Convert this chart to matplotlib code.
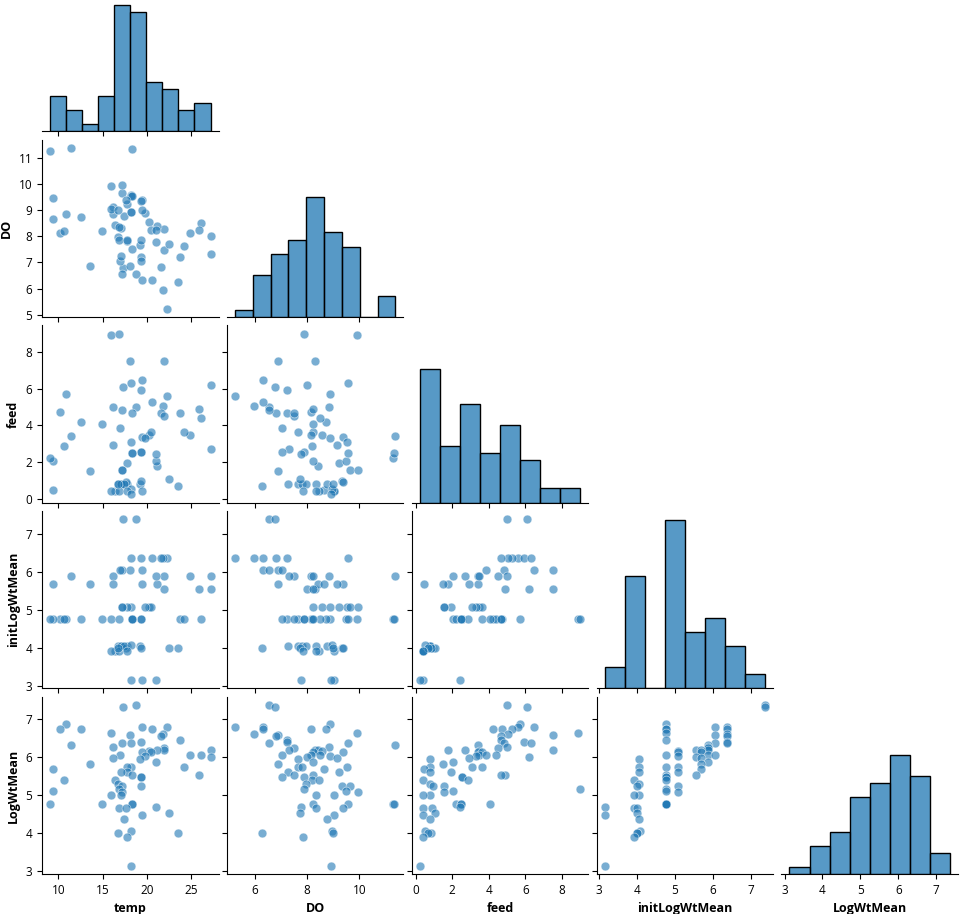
import matplotlib
matplotlib.use("Agg")
import matplotlib.pyplot as plt
from matplotlib.ticker import MultipleLocator
import seaborn as sns
import pandas as pd

temp = [18.8, 17.3, 10.87, 19.5, 22.3, 20.6, 10.2, 12.5, 16.0, 21.8,
        18.07, 21.55, 23.7, 19.3, 17.2, 18.2, 11.4, 16.2, 21.9, 27.2,
        21.9, 21.2, 20.2, 19.5, 20.5, 24.9, 26.1, 17.0, 19.8, 27.2,
        16.2, 19.2, 21.0, 13.56, 24.2, 18.2, 17.8, 9.43, 17.7, 17.1,
        25.9, 18.3, 19.3, 19.3, 10.6, 16.4, 16.7, 19.3, 17.2, 16.9,
        9.43, 17.2, 17.05, 16.0, 9.05, 14.9, 18.3, 18.3, 21.0, 16.8,
        17.6, 22.5, 19.4, 17.4, 18.2, 16.7, 23.5, 17.7, 18.2]

DO = [6.54, 6.78, 8.86, 6.32, 5.23, 6.32, 8.14, 8.72, 9.92, 5.95,
      6.87, 6.82, 7.22, 7.22, 6.55, 9.56, 11.38, 8.85, 7.49, 7.32,
      8.29, 8.4, 8.55, 9.38, 8.24, 8.14, 8.49, 7.05, 8.88, 8.01,
      9.13, 7.65, 8.24, 6.88, 7.63, 9.54, 7.81, 8.64, 9.22, 7.26,
      8.22, 7.5, 7.04, 7.86, 8.19, 8.44, 7.97, 9.33, 9.65, 7.87,
      9.47, 9.94, 8.32, 9.03, 11.27, 8.21, 11.33, 9.55, 7.77, 8.35,
      9.38, 7.71, 9.01, 8.77, 8.94, 9.0, 6.27, 7.85, 8.92]

feed = [5.01, 6.11, 5.72, 6.48, 5.58, 5.28, 4.7, 4.2, 8.9, 5.03,
        7.52, 4.64, 4.64, 5.91, 4.83, 6.28, 3.39, 5.01, 4.51, 2.68,
        7.52, 1.76, 3.45, 3.38, 3.63, 3.44, 4.37, 3.82, 3.30, 6.2,
        2.92, 0.79, 2.02, 1.49, 3.65, 3.06, 0.79, 0.48, 1.91, 0.79,
        4.88, 4.68, 2.55, 2.55, 2.84, 0.39, 0.79, 0.94, 1.54, 9.0,
        2.04, 1.54, 0.79, 0.39, 2.2, 4.07, 2.5, 2.5, 2.44, 0.39,
        0.88, 1.05, 0.39, 0.79, 0.51, 0.81, 0.66, 0.39, 0.22]

initLogWtMean = [7.38, 7.38, 4.76, 6.05, 6.37, 6.37, 4.76, 4.76, 4.76, 6.37,
                 6.05, 6.37, 4.76, 6.37, 6.05, 6.37, 5.88, 5.88, 5.88, 5.88,
                 5.55, 5.68, 5.08, 5.68, 5.08, 5.88, 4.76, 6.05, 5.08, 5.55,
                 5.68, 4.05, 5.88, 5.68, 4.76, 5.08, 4.05, 5.68, 5.08, 4.05,
                 5.55, 4.76, 4.76, 4.76, 4.76, 3.91, 4.05, 3.99, 5.08, 4.76,
                 4.76, 5.08, 4.05, 3.91, 4.76, 4.76, 4.76, 4.76, 3.14, 3.91,
                 3.99, 3.99, 3.14, 4.05, 4.07, 4.0, 3.99, 3.91, 3.14]

LogWtMean = [7.36, 7.32, 6.87, 6.77, 6.77, 6.73, 6.73, 6.73, 6.62, 6.61,
             6.57, 6.55, 6.43, 6.39, 6.37, 6.35, 6.32, 6.26, 6.23, 6.19,
             6.18, 6.17, 6.14, 6.12, 6.12, 6.05, 6.05, 6.04, 6.02, 5.99,
             5.97, 5.94, 5.86, 5.80, 5.74, 5.74, 5.74, 5.67, 5.61, 5.59,
             5.53, 5.53, 5.47, 5.47, 5.39, 5.38, 5.29, 5.24, 5.23, 5.14,
             5.10, 5.07, 4.99, 4.99, 4.77, 4.77, 4.75, 4.75, 4.68, 4.64,
             4.64, 4.52, 4.47, 4.36, 4.04, 4.0, 3.99, 3.90, 3.13]

columns = ["temp", "DO", "feed", "initLogWtMean", "LogWtMean"]
tick_steps = [5, 2, 2, 1, 1]

plt.rcParams['font.family'] = ['Open Sans', 'DejaVu Sans']
plt.rcParams['xtick.labelsize'] = 8.5
plt.rcParams['ytick.labelsize'] = 8.5
plt.rcParams['axes.labelsize'] = 9
plt.rcParams['axes.labelweight'] = 'bold'

df = pd.DataFrame({
    "temp": temp,
    "DO": DO,
    "feed": feed,
    "initLogWtMean": initLogWtMean,
    "LogWtMean": LogWtMean,
})[columns]

g = sns.pairplot(df, corner=True, height=1.85,
                 plot_kws=dict(alpha=0.6, s=40))
fig = g.figure
fig.set_size_inches(9.6, 9.14)
fig.subplots_adjust(left=42 / 960, right=958 / 960,
                    bottom=40 / 914, top=(40 + 920) / 914,
                    wspace=0.047, hspace=0.049)

n = len(columns)
for i in range(n):
    for j in range(n):
        ax = g.axes[i, j]
        if ax is None:
            continue
        ax.xaxis.set_major_locator(MultipleLocator(tick_steps[j]))
        if i != j:
            ax.yaxis.set_major_locator(MultipleLocator(tick_steps[i] if i != 1 else 1))

fig.savefig("out.png", dpi=100)
